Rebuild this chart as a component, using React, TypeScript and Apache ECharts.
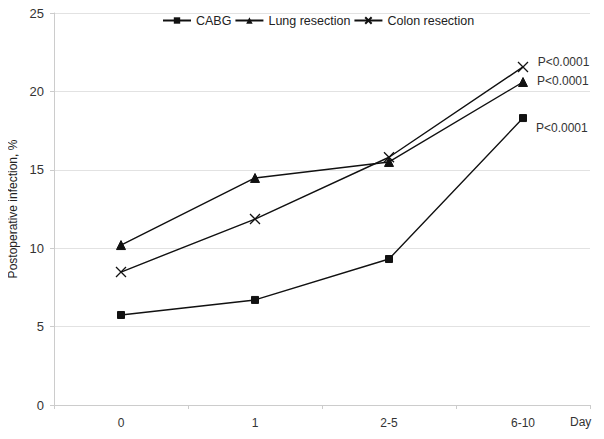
import React, { useEffect, useRef } from "react";
import * as echarts from "echarts";

const categories = ["0", "1", "2-5", "6-10"];
const cabg = [5.74, 6.7, 9.31, 18.3];
const lung = [10.2, 14.48, 15.5, 20.6];
const colon = [8.48, 11.86, 15.8, 21.56];
const pLabel = "P<0.0001";
const xName = "Day";
const yName = "Postoperative infection, %";
const yTicks = { min: 0, max: 25, interval: 5 };

const FONT = "Liberation Sans, Arial, sans-serif";

export default function App() {
  const ref = useRef<HTMLDivElement>(null);
  useEffect(() => {
    if (!ref.current) return;
    const chart = echarts.init(ref.current, undefined, { renderer: "svg" });
    const lastLabel = (offset: number[]) => ({
      show: true,
      position: "right",
      offset,
      formatter: (p: any) => (p.dataIndex === categories.length - 1 ? pLabel : ""),
      color: "#333",
      fontSize: 12,
      fontFamily: FONT,
    });
    const common = {
      type: "line",
      color: "#111",
      lineStyle: { color: "#111", width: 1.4 },
      itemStyle: { color: "#111", borderColor: "#111" },
    };
    chart.setOption({
      animation: false,
      textStyle: { fontFamily: FONT },
      legend: {
        top: 9,
        left: 157,
        itemGap: 3,
        itemWidth: 28,
        itemHeight: 8,
        textStyle: { fontSize: 12.5, color: "#222", fontFamily: FONT },
        data: ["CABG", "Lung resection", "Colon resection"],
      },
      grid: { left: 54, right: 14, top: 13, bottom: 34, outerBoundsMode: "none" },
      graphic: [
        {
          type: "text",
          left: 570,
          top: 416,
          style: { text: xName, fill: "#333", fontSize: 12, fontFamily: FONT },
        },
      ],
      xAxis: {
        type: "category",
        data: categories,
        boundaryGap: true,
        axisLine: { lineStyle: { color: "#ccc" } },
        axisTick: { show: true, lineStyle: { color: "#ccc" }, length: 4 },
        axisLabel: { color: "#333", fontSize: 12, margin: 12, fontFamily: FONT },
      },
      yAxis: {
        type: "value",
        min: yTicks.min,
        max: yTicks.max,
        interval: yTicks.interval,
        name: yName,
        nameLocation: "middle",
        nameGap: 33,
        nameRotate: 90,
        nameTextStyle: { color: "#222", fontSize: 12, fontFamily: FONT },
        axisLine: { show: true, lineStyle: { color: "#ccc" } },
        axisTick: { show: true, lineStyle: { color: "#ccc" }, length: 4 },
        axisLabel: { color: "#333", fontSize: 13, margin: 10, fontFamily: FONT },
        splitLine: { lineStyle: { color: "#e2e2e2" } },
      },
      series: [
        {
          ...common,
          name: "CABG",
          data: cabg,
          symbol: "rect",
          symbolSize: 7,
          label: lastLabel([4, 10]),
        },
        {
          ...common,
          name: "Lung resection",
          data: lung,
          symbol: "triangle",
          symbolSize: 9,
          label: lastLabel([4, -1]),
        },
        {
          ...common,
          name: "Colon resection",
          data: colon,
          symbol: "path://M0,0L10,10M10,0L0,10",
          symbolSize: 10,
          itemStyle: { color: "#111", borderColor: "#111", borderWidth: 1.3 },
          label: lastLabel([4, -5]),
        },
      ],
    });
    return () => chart.dispose();
  }, []);
  return <div ref={ref} style={{ width: 604, height: 439, margin: -8 }} />;
}
